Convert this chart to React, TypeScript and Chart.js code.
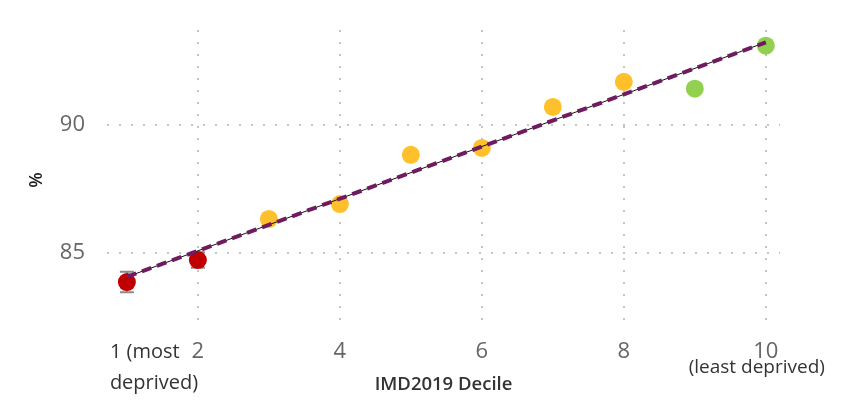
import React, { useEffect, useRef } from "react";
import { Chart, registerables } from "chart.js";

Chart.register(...registerables);

// ---- data ----
const deciles = [1, 2, 3, 4, 5, 6, 7, 8, 9, 10];
const values = [83.87, 84.73, 86.33, 86.91, 88.83, 89.1, 90.7, 91.68, 91.41, 93.09];
const errors = [0.4, 0.3, 0.15, 0.15, 0.15, 0.15, 0.15, 0.15, 0.15, 0.15];
const groups = ["most", "most", "mid", "mid", "mid", "mid", "mid", "mid", "least", "least"];
const trendX = [1, 10];
const trendY = [84.07, 93.22];
const xTicks = [2, 4, 6, 8, 10];
const yTicks = [85, 90];
const xTitle = "IMD2019 Decile";
const yTitle = "%";
const leftNote = ["1 (most", "deprived)"];
const rightNote = "(least deprived)";

const groupColors: Record<string, string> = {
  most: "#C00000",
  mid: "#FFC02B",
  least: "#92D050",
};

const FONT = "'Open Sans', 'Noto Sans', sans-serif";

const errorBarPlugin = {
  id: "errorBars",
  beforeDatasetsDraw(chart: any) {
    const { ctx, scales } = chart;
    const xs = scales.x;
    const ys = scales.y;
    ctx.save();
    ctx.strokeStyle = "#8a8a8a";
    ctx.lineWidth = 2;
    deciles.forEach((d, i) => {
      const px = xs.getPixelForValue(d);
      const yLo = ys.getPixelForValue(values[i] - errors[i]);
      const yHi = ys.getPixelForValue(values[i] + errors[i]);
      ctx.beginPath();
      ctx.moveTo(px, yLo);
      ctx.lineTo(px, yHi);
      ctx.moveTo(px - 7, yLo);
      ctx.lineTo(px + 7, yLo);
      ctx.moveTo(px - 7, yHi);
      ctx.lineTo(px + 7, yHi);
      ctx.stroke();
    });
    ctx.restore();
  },
};

const notesPlugin = {
  id: "notes",
  afterDraw(chart: any) {
    const { ctx, scales } = chart;
    const xs = scales.x;
    const x1 = xs.getPixelForValue(deciles[0]);
    const x10 = xs.getPixelForValue(deciles[deciles.length - 1]);
    ctx.save();
    ctx.fillStyle = "#333333";
    ctx.textBaseline = "middle";
    ctx.font = `20px ${FONT}`;
    ctx.textAlign = "left";
    ctx.fillText(leftNote[0], x1 - 17, 352);
    ctx.fillText(leftNote[1], x1 - 17, 383);
    ctx.font = `19px ${FONT}`;
    ctx.textAlign = "center";
    ctx.fillText(rightNote, x10 - 9, 368);
    ctx.restore();
  },
};

const zeroPad = (s: any) => {
  s.paddingTop = 0;
  s.paddingBottom = 0;
  s.paddingLeft = 0;
  s.paddingRight = 0;
};

export default function App() {
  const canvasRef = useRef<HTMLCanvasElement | null>(null);

  useEffect(() => {
    if (!canvasRef.current) return;
    const chart = new Chart(canvasRef.current, {
      type: "scatter",
      data: {
        datasets: [
          {
            type: "line",
            label: "trend dashed",
            data: trendX.map((x, i) => ({ x, y: trendY[i] })),
            borderColor: "#701A5F",
            borderWidth: 4,
            borderDash: [10, 6],
            pointRadius: 0,
            fill: false,
            order: 0,
          } as any,
          {
            type: "line",
            label: "trend",
            data: trendX.map((x, i) => ({ x, y: trendY[i] })),
            borderColor: "#111111",
            borderWidth: 1,
            pointRadius: 0,
            fill: false,
            order: 1,
          } as any,
          {
            label: "values",
            data: deciles.map((x, i) => ({ x, y: values[i] })),
            backgroundColor: groups.map((g) => groupColors[g]),
            borderWidth: 0,
            pointRadius: 9,
            pointHoverRadius: 9,
            order: 2,
          },
        ],
      },
      options: {
        responsive: false,
        animation: false,
        layout: { padding: { top: 30, right: 74, left: 0, bottom: 0 } },
        plugins: {
          legend: { display: false },
          tooltip: { enabled: false },
        },
        scales: {
          x: {
            type: "linear",
            min: 0.72,
            max: 10.2,
            afterBuildTicks: (s: any) => {
              s.ticks = xTicks.map((v) => ({ value: v }));
            },
            afterFit: (s: any) => {
              s.height = 70;
              zeroPad(s);
            },
            ticks: {
              color: "#666666",
              font: { family: FONT, size: 22 },
              padding: 9,
              maxRotation: 0,
              autoSkip: false,
            },
            grid: {
              color: "#c4c4c4",
              lineWidth: 2,
              drawTicks: false,
            },
            border: { display: false, dash: [2, 10] },
            title: {
              display: true,
              text: xTitle,
              color: "#333333",
              font: { family: FONT, size: 18.5, weight: "600" },
              padding: { top: 0, bottom: 4 },
            },
          },
          y: {
            type: "linear",
            min: 82,
            max: 93.7,
            afterBuildTicks: (s: any) => {
              s.ticks = yTicks.map((v) => ({ value: v }));
            },
            afterFit: (s: any) => {
              s.width = 107;
              zeroPad(s);
            },
            ticks: {
              color: "#666666",
              font: { family: FONT, size: 22 },
              padding: 22,
            },
            grid: {
              color: "#c4c4c4",
              lineWidth: 2,
              drawTicks: false,
            },
            border: { display: false, dash: [2, 10] },
            title: {
              display: true,
              text: yTitle,
              color: "#222222",
              font: { family: FONT, size: 18, weight: "600" },
              padding: { top: 26, bottom: 0 },
            },
          },
        },
      },
      plugins: [errorBarPlugin, notesPlugin],
    });
    return () => chart.destroy();
  }, []);

  return (
    <div style={{ position: "absolute", left: 0, top: 0, width: 854, height: 400, background: "#fff" }}>
      <canvas ref={canvasRef} width={854} height={400} style={{ display: "block" }} />
    </div>
  );
}
